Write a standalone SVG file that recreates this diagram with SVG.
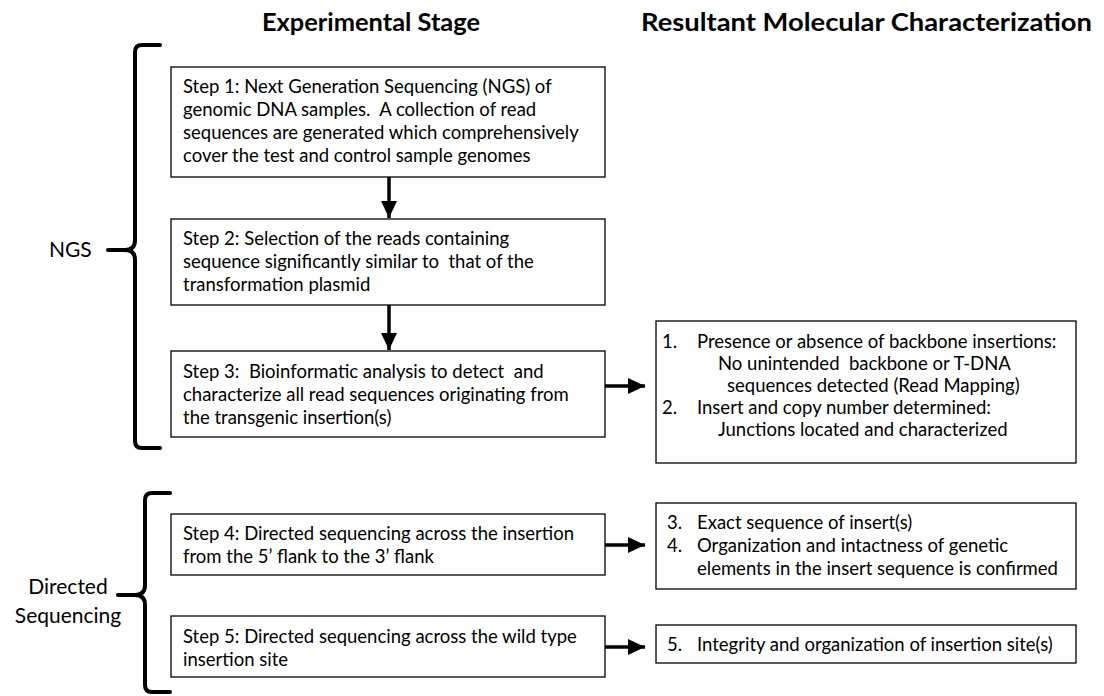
<svg xmlns="http://www.w3.org/2000/svg" width="1104" height="696" viewBox="0 0 1104 696">
<style>
.box{fill:#fff;stroke:#000;stroke-width:1.3}
.t{font-family:Lato,"Liberation Sans",sans-serif;font-size:18.5px;fill:#000;white-space:pre}
.h{font-family:Lato,"Liberation Sans",sans-serif;font-size:25px;font-weight:bold;fill:#000}
.lbl{font-family:Lato,"Liberation Sans",sans-serif;font-size:21px;fill:#000}
.brace{fill:none;stroke:#000;stroke-width:4;stroke-linecap:round;stroke-linejoin:round}
.conn{stroke:#000;stroke-width:3.5;fill:none}
</style>
<defs>
<marker id="ah" markerUnits="userSpaceOnUse" markerWidth="18" markerHeight="16" refX="17" refY="8" orient="auto">
<path d="M0,0 L17,8 L0,16 Z" fill="#000"/>
</marker>
</defs>
<rect width="1104" height="696" fill="#fff"/>
<g id="headers">
<text class="h" x="262" y="31" textLength="218" lengthAdjust="spacingAndGlyphs">Experimental Stage</text>
<text class="h" x="641" y="31" textLength="451" lengthAdjust="spacingAndGlyphs">Resultant Molecular Characterization</text>
</g>
<g id="ngs-brace">
<path class="brace" d="M160,45 L142,45 Q135,45 135,52 L135,240 Q135,250 125,250 L108,250 M125,250 Q135,250 135,260 L135,441 Q135,448 142,448 L160,448"/>
<text class="lbl" x="49" y="257">NGS</text>
</g>
<g id="ds-brace">
<path class="brace" d="M170,493 L152,493 Q145,493 145,500 L145,585 Q145,595 135,595 L118,595 M135,595 Q145,595 145,605 L145,685 Q145,692 152,692 L170,692"/>
<text class="lbl" x="68" y="594" text-anchor="middle">Directed</text>
<text class="lbl" x="68" y="623" text-anchor="middle">Sequencing</text>
</g>
<g id="step1">
<rect class="box" x="171" y="67" width="434" height="110"/>
<text class="t" x="183" y="93">Step 1: Next Generation Sequencing (NGS) of</text>
<text class="t" x="183" y="116">genomic DNA samples.  A collection of read</text>
<text class="t" x="183" y="139">sequences are generated which comprehensively</text>
<text class="t" x="183" y="162">cover the test and control sample genomes</text>
</g>
<g id="step2">
<rect class="box" x="171" y="219" width="434" height="86"/>
<text class="t" x="183" y="245">Step 2: Selection of the reads containing</text>
<text class="t" x="183" y="268">sequence significantly similar to  that of the</text>
<text class="t" x="183" y="291">transformation plasmid</text>
</g>
<g id="step3">
<rect class="box" x="171" y="351" width="434" height="86"/>
<text class="t" x="183" y="378">Step 3:  Bioinformatic analysis to detect  and</text>
<text class="t" x="183" y="401">characterize all read sequences originating from</text>
<text class="t" x="183" y="424">the transgenic insertion(s)</text>
</g>
<g id="step4">
<rect class="box" x="171" y="514" width="434" height="61"/>
<text class="t" x="183" y="540">Step 4: Directed sequencing across the insertion</text>
<text class="t" x="183" y="563">from the 5’ flank to the 3’ flank</text>
</g>
<g id="step5">
<rect class="box" x="171" y="616" width="434" height="61"/>
<text class="t" x="183" y="643">Step 5: Directed sequencing across the wild type</text>
<text class="t" x="183" y="666">insertion site</text>
</g>
<g id="result1">
<rect class="box" x="656" y="321" width="420" height="142"/>
<text class="t" x="662" y="348">1.</text>
<text class="t" x="697" y="348">Presence or absence of backbone insertions:</text>
<text class="t" x="718" y="370">No unintended  backbone or T-DNA</text>
<text class="t" x="727" y="392">sequences detected (Read Mapping)</text>
<text class="t" x="662" y="414">2.</text>
<text class="t" x="697" y="414">Insert and copy number determined:</text>
<text class="t" x="718" y="436">Junctions located and characterized</text>
</g>
<g id="result2">
<rect class="box" x="656" y="503" width="420" height="86"/>
<text class="t" x="667" y="529">3.</text>
<text class="t" x="697" y="529">Exact sequence of insert(s)</text>
<text class="t" x="667" y="552">4.</text>
<text class="t" x="697" y="552">Organization and intactness of genetic</text>
<text class="t" x="697" y="575">elements in the insert sequence is confirmed</text>
</g>
<g id="result3">
<rect class="box" x="656" y="625" width="420" height="38"/>
<text class="t" x="667" y="651">5.</text>
<text class="t" x="697" y="651">Integrity and organization of insertion site(s)</text>
</g>
<g id="connectors">
<line class="conn" x1="389" y1="177" x2="389" y2="218" marker-end="url(#ah)"/>
<line class="conn" x1="389" y1="305" x2="389" y2="350" marker-end="url(#ah)"/>
<line class="conn" x1="605" y1="386" x2="645" y2="386" marker-end="url(#ah)"/>
<line class="conn" x1="605" y1="545" x2="645" y2="545" marker-end="url(#ah)"/>
<line class="conn" x1="605" y1="647" x2="645" y2="647" marker-end="url(#ah)"/>
</g>
</svg>
